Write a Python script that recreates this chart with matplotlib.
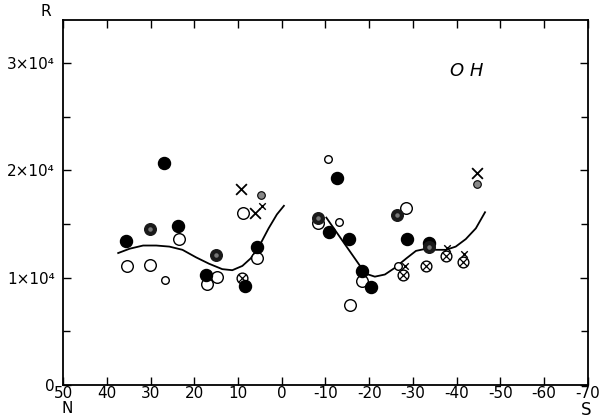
import matplotlib
matplotlib.use("Agg")
import matplotlib.pyplot as plt
import numpy as np

# ---- data (latitude in degrees, R in units of 1e4) ----
filled_x = [35.6, 27.0, 23.7, 17.3, 5.75, 8.4, -12.6, -10.8, -15.5, -18.3, -20.5, -28.6, -33.6]
filled_y = [1.34, 2.07, 1.48, 1.03, 1.29, 0.92, 1.93, 1.43, 1.36, 1.06, 0.91, 1.36, 1.32]

half_x = [30.2, 15.0, -8.3, -26.4, -33.6]
half_y = [1.45, 1.21, 1.56, 1.58, 1.29]

open_x = [23.6, 35.4, 30.2, 17.2, 14.8, 8.8, 5.6, -8.3, -18.4, -15.6, -28.5]
open_y = [1.36, 1.11, 1.12, 0.94, 1.01, 1.60, 1.18, 1.51, 0.97, 0.75, 1.65]

small_open_x = [26.6, -10.5, -13.1, -26.7]
small_open_y = [0.98, 2.11, 1.52, 1.11]

crossed_x = [9.0, -27.8, -33.1, -37.5, -41.5]
crossed_y = [1.00, 1.03, 1.11, 1.20, 1.15]

xmark_x = [9.4, 6.0, -44.6]
xmark_y = [1.83, 1.60, 1.98]

small_xmark_x = [4.5, -28.2, -37.7, -41.7]
small_xmark_y = [1.67, 1.11, 1.28, 1.22]

dotted_x = [4.7, -44.6]
dotted_y = [1.77, 1.87]

# hand-drawn curves
curveN_x = [37.4, 34.8, 31.7, 28.7, 25.7, 22.7, 19.6, 16.6, 13.6, 11.3, 9.0, 7.1, 5.2, 3.0, 1.1, -0.5]
curveN_y = [1.23, 1.27, 1.30, 1.30, 1.29, 1.26, 1.19, 1.13, 1.08, 1.07, 1.11, 1.18, 1.29, 1.46, 1.59, 1.67]

curveS_x = [-10.2, -18.6, -19.8, -21.3, -23.6, -25.8, -28.5, -30.7, -33.0, -35.3, -37.6, -39.8, -42.1, -44.4, -46.5]
curveS_y = [1.56, 1.07, 1.03, 1.01, 1.03, 1.09, 1.18, 1.25, 1.27, 1.26, 1.26, 1.29, 1.36, 1.46, 1.61]

xticks = [50, 40, 30, 20, 10, 0, -10, -20, -30, -40, -50, -60, -70]
xtick_labels = ["50", "40", "30", "20", "10", "0", "-10", "-20", "-30", "-40", "-50", "-60", "-70"]
yticks = [0, 1, 2, 3]
ytick_labels = ["0", "1×10⁴", "2×10⁴", "3×10⁴"]

fig = plt.figure(figsize=(6.01, 4.19), dpi=100)
ax = fig.add_axes([0.105, 0.081, 0.873, 0.871])
ax.set_xlim(50, -70)
ax.set_ylim(0, 3.4)

ax.plot(curveN_x, curveN_y, color="black", lw=1.3, solid_joinstyle="round")
ax.plot(curveS_x, curveS_y, color="black", lw=1.3, solid_joinstyle="round")

ax.scatter(open_x, open_y, s=70, facecolors="white", edgecolors="black", linewidths=1.0, zorder=3)
ax.scatter(small_open_x, small_open_y, s=30, facecolors="white", edgecolors="black", linewidths=1.0, zorder=3)
ax.scatter(filled_x, filled_y, s=75, color="black", zorder=4)
ax.scatter(half_x, half_y, s=70, color="#1a1a1a", zorder=4)
ax.scatter(half_x, half_y, s=5, color="#777777", zorder=5)
ax.scatter(crossed_x, crossed_y, s=60, facecolors="white", edgecolors="black", linewidths=1.0, zorder=3)
ax.scatter(crossed_x, crossed_y, s=30, marker="x", color="black", linewidths=0.9, zorder=4)
ax.scatter(xmark_x, xmark_y, s=60, marker="x", color="black", linewidths=1.3, zorder=4)
ax.scatter(small_xmark_x, small_xmark_y, s=22, marker="x", color="black", linewidths=1.0, zorder=4)
ax.scatter(dotted_x, dotted_y, s=30, facecolors="#888888", edgecolors="black", linewidths=0.8, zorder=4)

ax.set_xticks(xticks)
ax.set_xticklabels(xtick_labels, fontsize=11)
ax.set_yticks(yticks)
ax.set_yticklabels(ytick_labels, fontsize=11)
ax.set_yticks([0.5, 1.5, 2.5], minor=True)
ax.tick_params(direction="in", length=6, width=1.0, top=True, right=True)
ax.tick_params(axis="x", pad=1)
ax.tick_params(axis="y", pad=6)
ax.tick_params(which="minor", direction="in", length=5, width=1.0, left=True, right=True)
for s in ax.spines.values():
    s.set_linewidth(1.3)

ax.text(-38.5, 2.93, "O H", fontsize=13, style="italic", va="center", ha="left")
fig.text(0.067, 0.955, "R", fontsize=11, va="bottom")
fig.text(0.112, 0.006, "N", fontsize=11, va="bottom", ha="center")
fig.text(0.975, 0.0, "S", fontsize=12, va="bottom", ha="center")

fig.savefig("out.png", dpi=100)
